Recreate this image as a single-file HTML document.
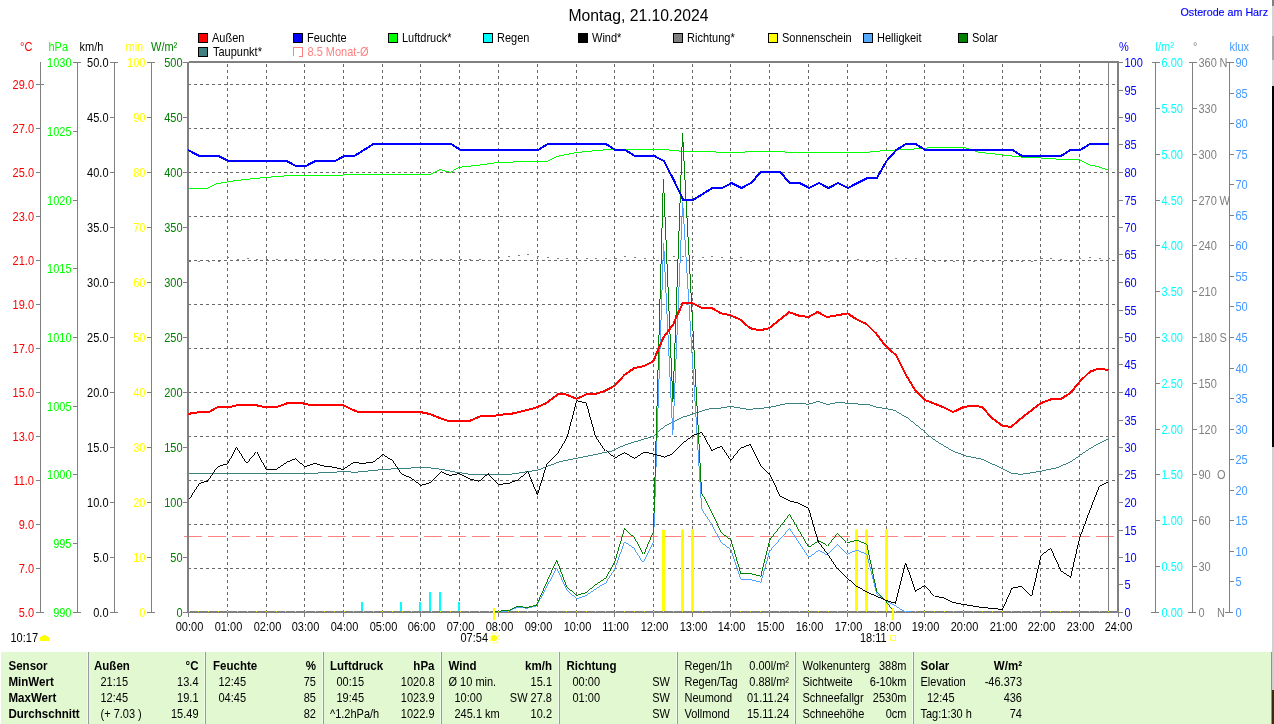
<!DOCTYPE html>
<html><head><meta charset="utf-8"><title>Wetter</title>
<style>html,body{margin:0;padding:0;background:#fff;overflow:hidden}svg{display:block;will-change:transform}text{font-family:"Liberation Sans",sans-serif}</style>
</head><body>
<svg width="1274" height="724" viewBox="0 0 1274 724">
<rect x="0" y="0" width="1274" height="724" fill="#fff"/>
<g shape-rendering="crispEdges">
<line x1="227.5" y1="64" x2="227.5" y2="611" stroke="#686868" stroke-width="1" stroke-dasharray="3 3"/>
<line x1="266.5" y1="64" x2="266.5" y2="611" stroke="#686868" stroke-width="1" stroke-dasharray="3 3"/>
<line x1="304.5" y1="64" x2="304.5" y2="611" stroke="#686868" stroke-width="1" stroke-dasharray="3 3"/>
<line x1="343.5" y1="64" x2="343.5" y2="611" stroke="#686868" stroke-width="1" stroke-dasharray="3 3"/>
<line x1="382.5" y1="64" x2="382.5" y2="611" stroke="#686868" stroke-width="1" stroke-dasharray="3 3"/>
<line x1="420.5" y1="64" x2="420.5" y2="611" stroke="#686868" stroke-width="1" stroke-dasharray="3 3"/>
<line x1="459.5" y1="64" x2="459.5" y2="611" stroke="#686868" stroke-width="1" stroke-dasharray="3 3"/>
<line x1="498.5" y1="64" x2="498.5" y2="611" stroke="#686868" stroke-width="1" stroke-dasharray="3 3"/>
<line x1="537.5" y1="64" x2="537.5" y2="611" stroke="#686868" stroke-width="1" stroke-dasharray="3 3"/>
<line x1="576.5" y1="64" x2="576.5" y2="611" stroke="#686868" stroke-width="1" stroke-dasharray="3 3"/>
<line x1="614.5" y1="64" x2="614.5" y2="611" stroke="#686868" stroke-width="1" stroke-dasharray="3 3"/>
<line x1="653.5" y1="64" x2="653.5" y2="611" stroke="#686868" stroke-width="1" stroke-dasharray="3 3"/>
<line x1="692.5" y1="64" x2="692.5" y2="611" stroke="#686868" stroke-width="1" stroke-dasharray="3 3"/>
<line x1="730.5" y1="64" x2="730.5" y2="611" stroke="#686868" stroke-width="1" stroke-dasharray="3 3"/>
<line x1="769.5" y1="64" x2="769.5" y2="611" stroke="#686868" stroke-width="1" stroke-dasharray="3 3"/>
<line x1="808.5" y1="64" x2="808.5" y2="611" stroke="#686868" stroke-width="1" stroke-dasharray="3 3"/>
<line x1="847.5" y1="64" x2="847.5" y2="611" stroke="#686868" stroke-width="1" stroke-dasharray="3 3"/>
<line x1="886.5" y1="64" x2="886.5" y2="611" stroke="#686868" stroke-width="1" stroke-dasharray="3 3"/>
<line x1="924.5" y1="64" x2="924.5" y2="611" stroke="#686868" stroke-width="1" stroke-dasharray="3 3"/>
<line x1="963.5" y1="64" x2="963.5" y2="611" stroke="#686868" stroke-width="1" stroke-dasharray="3 3"/>
<line x1="1002.5" y1="64" x2="1002.5" y2="611" stroke="#686868" stroke-width="1" stroke-dasharray="3 3"/>
<line x1="1040.5" y1="64" x2="1040.5" y2="611" stroke="#686868" stroke-width="1" stroke-dasharray="3 3"/>
<line x1="1079.5" y1="64" x2="1079.5" y2="611" stroke="#686868" stroke-width="1" stroke-dasharray="3 3"/>
<line x1="188" y1="568.5" x2="1117" y2="568.5" stroke="#686868" stroke-width="1" stroke-dasharray="3 3"/>
<line x1="188" y1="524.5" x2="1117" y2="524.5" stroke="#686868" stroke-width="1" stroke-dasharray="3 3"/>
<line x1="188" y1="480.5" x2="1117" y2="480.5" stroke="#686868" stroke-width="1" stroke-dasharray="3 3"/>
<line x1="188" y1="436.5" x2="1117" y2="436.5" stroke="#686868" stroke-width="1" stroke-dasharray="3 3"/>
<line x1="188" y1="392.5" x2="1117" y2="392.5" stroke="#686868" stroke-width="1" stroke-dasharray="3 3"/>
<line x1="188" y1="348.5" x2="1117" y2="348.5" stroke="#686868" stroke-width="1" stroke-dasharray="3 3"/>
<line x1="188" y1="304.5" x2="1117" y2="304.5" stroke="#686868" stroke-width="1" stroke-dasharray="3 3"/>
<line x1="188" y1="260.5" x2="1117" y2="260.5" stroke="#686868" stroke-width="1" stroke-dasharray="3 3"/>
<line x1="188" y1="216.5" x2="1117" y2="216.5" stroke="#686868" stroke-width="1" stroke-dasharray="3 3"/>
<line x1="188" y1="172.5" x2="1117" y2="172.5" stroke="#686868" stroke-width="1" stroke-dasharray="3 3"/>
<line x1="188" y1="128.5" x2="1117" y2="128.5" stroke="#686868" stroke-width="1" stroke-dasharray="3 3"/>
<line x1="188" y1="84.5" x2="1117" y2="84.5" stroke="#686868" stroke-width="1" stroke-dasharray="3 3"/>
<line x1="184" y1="536.5" x2="1115" y2="536.5" stroke="#ff8080" stroke-width="1" stroke-dasharray="18 6"/>
</g>
<g shape-rendering="crispEdges">
<rect x="189" y="61" width="930" height="2" fill="#808080"/>
<rect x="187" y="611" width="932" height="2" fill="#808080"/>
<rect x="187" y="62" width="2" height="551" fill="#808080"/>
<rect x="188" y="613" width="1" height="4" fill="#808080"/>
<rect x="1117" y="61" width="2" height="552" fill="#808080"/>
<rect x="1118" y="613" width="1" height="4" fill="#808080"/>
<rect x="1108" y="62" width="1" height="550" fill="#808080"/>
<rect x="227" y="613" width="1" height="4" fill="#808080"/>
<rect x="266" y="613" width="1" height="4" fill="#808080"/>
<rect x="304" y="613" width="1" height="4" fill="#808080"/>
<rect x="343" y="613" width="1" height="4" fill="#808080"/>
<rect x="382" y="613" width="1" height="4" fill="#808080"/>
<rect x="420" y="613" width="1" height="4" fill="#808080"/>
<rect x="459" y="613" width="1" height="4" fill="#808080"/>
<rect x="498" y="613" width="1" height="4" fill="#808080"/>
<rect x="537" y="613" width="1" height="4" fill="#808080"/>
<rect x="576" y="613" width="1" height="4" fill="#808080"/>
<rect x="614" y="613" width="1" height="4" fill="#808080"/>
<rect x="653" y="613" width="1" height="4" fill="#808080"/>
<rect x="692" y="613" width="1" height="4" fill="#808080"/>
<rect x="730" y="613" width="1" height="4" fill="#808080"/>
<rect x="769" y="613" width="1" height="4" fill="#808080"/>
<rect x="808" y="613" width="1" height="4" fill="#808080"/>
<rect x="847" y="613" width="1" height="4" fill="#808080"/>
<rect x="886" y="613" width="1" height="4" fill="#808080"/>
<rect x="924" y="613" width="1" height="4" fill="#808080"/>
<rect x="963" y="613" width="1" height="4" fill="#808080"/>
<rect x="1002" y="613" width="1" height="4" fill="#808080"/>
<rect x="1040" y="613" width="1" height="4" fill="#808080"/>
<rect x="1079" y="613" width="1" height="4" fill="#808080"/>
</g>
<g shape-rendering="crispEdges">
<rect x="189" y="261" width="2" height="1" fill="#808080"/>
<rect x="198" y="261" width="2" height="1" fill="#808080"/>
<rect x="208" y="261" width="2" height="1" fill="#808080"/>
<rect x="218" y="261" width="2" height="1" fill="#808080"/>
<rect x="227" y="257" width="2" height="1" fill="#808080"/>
<rect x="237" y="259" width="2" height="1" fill="#808080"/>
<rect x="247" y="258" width="2" height="1" fill="#808080"/>
<rect x="256" y="259" width="2" height="1" fill="#808080"/>
<rect x="266" y="259" width="2" height="1" fill="#808080"/>
<rect x="276" y="259" width="2" height="1" fill="#808080"/>
<rect x="285" y="259" width="2" height="1" fill="#808080"/>
<rect x="295" y="259" width="2" height="1" fill="#808080"/>
<rect x="305" y="259" width="2" height="1" fill="#808080"/>
<rect x="315" y="259" width="2" height="1" fill="#808080"/>
<rect x="324" y="259" width="2" height="1" fill="#808080"/>
<rect x="334" y="259" width="2" height="1" fill="#808080"/>
<rect x="344" y="259" width="2" height="1" fill="#808080"/>
<rect x="353" y="259" width="2" height="1" fill="#808080"/>
<rect x="363" y="259" width="2" height="1" fill="#808080"/>
<rect x="373" y="259" width="2" height="1" fill="#808080"/>
<rect x="382" y="259" width="2" height="1" fill="#808080"/>
<rect x="392" y="259" width="2" height="1" fill="#808080"/>
<rect x="402" y="259" width="2" height="1" fill="#808080"/>
<rect x="411" y="259" width="2" height="1" fill="#808080"/>
<rect x="421" y="259" width="2" height="1" fill="#808080"/>
<rect x="431" y="259" width="2" height="1" fill="#808080"/>
<rect x="440" y="259" width="2" height="1" fill="#808080"/>
<rect x="450" y="259" width="2" height="1" fill="#808080"/>
<rect x="460" y="259" width="2" height="1" fill="#808080"/>
<rect x="469" y="259" width="2" height="1" fill="#808080"/>
<rect x="479" y="259" width="2" height="1" fill="#808080"/>
<rect x="489" y="260" width="2" height="1" fill="#808080"/>
<rect x="498" y="257" width="2" height="1" fill="#808080"/>
<rect x="508" y="256" width="2" height="1" fill="#808080"/>
<rect x="518" y="255" width="2" height="1" fill="#808080"/>
<rect x="527" y="254" width="2" height="1" fill="#808080"/>
<rect x="537" y="256" width="2" height="1" fill="#808080"/>
<rect x="547" y="257" width="2" height="1" fill="#808080"/>
<rect x="557" y="258" width="2" height="1" fill="#808080"/>
<rect x="566" y="258" width="2" height="1" fill="#808080"/>
<rect x="576" y="258" width="2" height="1" fill="#808080"/>
<rect x="586" y="258" width="2" height="1" fill="#808080"/>
<rect x="595" y="258" width="2" height="1" fill="#808080"/>
<rect x="605" y="258" width="2" height="1" fill="#808080"/>
<rect x="615" y="258" width="2" height="1" fill="#808080"/>
<rect x="624" y="256" width="2" height="1" fill="#808080"/>
<rect x="634" y="257" width="2" height="1" fill="#808080"/>
<rect x="644" y="258" width="2" height="1" fill="#808080"/>
<rect x="653" y="258" width="2" height="1" fill="#808080"/>
<rect x="663" y="258" width="2" height="1" fill="#808080"/>
<rect x="673" y="256" width="2" height="1" fill="#808080"/>
<rect x="682" y="256" width="2" height="1" fill="#808080"/>
<rect x="692" y="256" width="2" height="1" fill="#808080"/>
<rect x="702" y="257" width="2" height="1" fill="#808080"/>
<rect x="711" y="256" width="2" height="1" fill="#808080"/>
<rect x="721" y="257" width="2" height="1" fill="#808080"/>
<rect x="731" y="258" width="2" height="1" fill="#808080"/>
<rect x="740" y="257" width="2" height="1" fill="#808080"/>
<rect x="750" y="261" width="2" height="1" fill="#808080"/>
<rect x="760" y="261" width="2" height="1" fill="#808080"/>
<rect x="769" y="261" width="2" height="1" fill="#808080"/>
<rect x="779" y="261" width="2" height="1" fill="#808080"/>
<rect x="789" y="261" width="2" height="1" fill="#808080"/>
<rect x="799" y="261" width="2" height="1" fill="#808080"/>
<rect x="808" y="261" width="2" height="1" fill="#808080"/>
<rect x="818" y="261" width="2" height="1" fill="#808080"/>
<rect x="828" y="261" width="2" height="1" fill="#808080"/>
<rect x="837" y="261" width="2" height="1" fill="#808080"/>
<rect x="847" y="261" width="2" height="1" fill="#808080"/>
<rect x="857" y="259" width="2" height="1" fill="#808080"/>
<rect x="866" y="261" width="2" height="1" fill="#808080"/>
<rect x="876" y="261" width="2" height="1" fill="#808080"/>
<rect x="886" y="261" width="2" height="1" fill="#808080"/>
<rect x="895" y="258" width="2" height="1" fill="#808080"/>
<rect x="905" y="258" width="2" height="1" fill="#808080"/>
<rect x="915" y="258" width="2" height="1" fill="#808080"/>
<rect x="924" y="259" width="2" height="1" fill="#808080"/>
<rect x="934" y="261" width="2" height="1" fill="#808080"/>
<rect x="944" y="261" width="2" height="1" fill="#808080"/>
<rect x="953" y="261" width="2" height="1" fill="#808080"/>
<rect x="963" y="261" width="2" height="1" fill="#808080"/>
<rect x="973" y="261" width="2" height="1" fill="#808080"/>
<rect x="982" y="261" width="2" height="1" fill="#808080"/>
<rect x="992" y="261" width="2" height="1" fill="#808080"/>
<rect x="1002" y="261" width="2" height="1" fill="#808080"/>
<rect x="1011" y="261" width="2" height="1" fill="#808080"/>
<rect x="1021" y="261" width="2" height="1" fill="#808080"/>
<rect x="1031" y="261" width="2" height="1" fill="#808080"/>
<rect x="1041" y="258" width="2" height="1" fill="#808080"/>
<rect x="1050" y="258" width="2" height="1" fill="#808080"/>
<rect x="1060" y="259" width="2" height="1" fill="#808080"/>
<rect x="1070" y="261" width="2" height="1" fill="#808080"/>
<rect x="1079" y="258" width="2" height="1" fill="#808080"/>
<rect x="1089" y="257" width="2" height="1" fill="#808080"/>
<rect x="1099" y="258" width="2" height="1" fill="#808080"/>
<rect x="1108" y="258" width="2" height="1" fill="#808080"/>
<rect x="361" y="602" width="2" height="9" fill="#00ffff"/>
<rect x="400" y="602" width="2" height="9" fill="#00ffff"/>
<rect x="419" y="602" width="2" height="9" fill="#00ffff"/>
<rect x="429" y="592" width="2" height="19" fill="#00ffff"/>
<rect x="439" y="592" width="2" height="19" fill="#00ffff"/>
<rect x="458" y="602" width="2" height="9" fill="#00ffff"/>
<rect x="662" y="530" width="3" height="81" fill="#ffff00"/>
<rect x="663" y="529" width="1" height="1" fill="#ffff00"/>
<rect x="681" y="530" width="3" height="81" fill="#ffff00"/>
<rect x="682" y="529" width="1" height="1" fill="#ffff00"/>
<rect x="691" y="530" width="3" height="81" fill="#ffff00"/>
<rect x="692" y="529" width="1" height="1" fill="#ffff00"/>
<rect x="855" y="530" width="3" height="81" fill="#ffff00"/>
<rect x="856" y="529" width="1" height="1" fill="#ffff00"/>
<rect x="865" y="530" width="3" height="81" fill="#ffff00"/>
<rect x="866" y="529" width="1" height="1" fill="#ffff00"/>
<rect x="885" y="530" width="3" height="81" fill="#ffff00"/>
<rect x="886" y="529" width="1" height="1" fill="#ffff00"/>
</g>
<g shape-rendering="crispEdges">
<polyline points="189.0,188.3 207.0,188.3 217.0,183.6 237.8,180.3 266.7,177.3 293.0,175.3 343.0,175.0 351.0,174.3 430.0,174.3 440.0,169.5 450.0,172.3 460.0,167.2 479.0,165.2 500.0,162.2 546.5,161.5 556.5,156.4 575.0,152.7 600.0,150.2 613.0,149.4 663.0,149.4 683.0,151.4 716.0,152.0 721.0,152.7 741.0,152.7 747.5,151.7 784.0,151.7 786.4,152.4 869.0,152.4 872.8,151.4 898.0,150.0 915.5,148.9 925.5,148.0 940.6,147.0 963.0,147.0 965.7,148.0 978.0,152.0 1003.0,155.0 1021.0,157.0 1041.0,158.0 1066.0,159.7 1080.0,160.0 1090.0,165.0 1099.0,167.0 1108.4,170.0" fill="none" stroke="#00ff00" stroke-width="0.99"/>
<polyline points="189.0,473.5 255.0,473.0 305.0,473.7 343.0,471.7 356.0,472.2 386.0,469.2 406.0,468.4 420.7,467.2 436.0,468.4 456.4,472.2 469.0,474.2 510.0,474.4 538.0,470.0 560.5,461.4 611.8,450.9 625.6,444.6 653.3,436.3 664.6,426.2 682.0,417.4 692.0,414.4 709.8,408.6 721.0,408.0 730.7,406.4 748.7,409.4 768.8,407.6 786.4,403.6 796.5,403.0 807.8,404.4 818.3,401.4 827.6,404.4 838.9,402.4 855.0,403.9 866.5,404.4 876.6,407.4 886.6,408.6 895.4,410.7 905.5,417.0 925.6,433.3 935.6,440.8 954.5,452.0 965.8,455.9 983.4,459.6 1011.0,473.0 1021.0,474.4 1040.0,471.4 1057.7,467.6 1070.3,461.9 1079.6,455.6 1086.4,450.9 1096.4,444.6 1108.5,438.8" fill="none" stroke="#3a8080" stroke-width="0.99"/>
<polyline points="494.0,611.8 509.0,611.0 517.8,607.0 526.6,608.3 536.6,605.8 556.7,568.0 566.8,590.0 576.8,598.8 585.6,595.8 597.0,588.0 605.7,583.0 614.5,569.4 624.6,541.8 634.6,548.5 643.4,562.4 653.5,541.8 663.6,243.0 672.8,435.0 682.6,201.7 701.7,509.0 712.0,525.0 721.3,542.5 730.9,549.8 740.9,579.4 751.5,580.0 760.8,582.5 769.7,551.0 789.6,528.4 808.5,556.8 818.3,550.0 827.3,555.0 837.4,544.3 847.4,554.3 856.7,550.0 866.8,554.3 876.8,593.8 885.6,600.8 895.2,605.8 903.2,610.9 910.8,611.6" fill="none" stroke="#4da0ff" stroke-width="0.99"/>
<polyline points="494.0,611.5 509.0,610.4 517.8,606.3 526.6,607.6 536.6,605.0 556.7,560.0 566.8,587.0 576.8,595.3 585.6,592.8 597.0,583.7 605.7,578.2 614.5,562.6 624.6,528.4 634.6,538.0 643.4,554.3 653.5,530.5 663.4,179.0 672.9,402.0 682.5,133.0 701.6,492.8 712.0,512.9 721.3,532.5 730.9,540.0 740.9,573.7 751.5,574.0 760.8,576.4 769.7,540.0 789.6,514.4 808.5,546.8 818.3,540.5 827.3,545.5 837.4,532.5 847.4,543.0 856.7,540.0 866.8,544.3 876.8,592.0 885.6,600.8 893.5,611.5" fill="none" stroke="#008000" stroke-width="0.99"/>
<polyline points="189.0,498.6 198.8,483.5 207.6,481.0 217.7,466.7 227.7,463.7 236.5,447.3 246.6,463.4 256.6,451.6 266.2,469.2 275.5,469.2 285.5,462.4 295.0,458.4 304.9,466.7 314.4,463.4 324.5,466.2 333.8,467.4 343.3,469.4 353.4,462.4 363.0,463.4 373.0,462.2 383.0,454.6 392.3,460.4 401.6,474.2 411.2,478.0 420.7,485.5 430.8,482.5 440.8,471.7 450.0,475.5 459.4,473.5 470.2,479.2 479.0,481.3 488.5,473.5 499.0,484.5 509.0,483.2 517.8,480.2 527.8,471.4 537.4,494.8 546.7,464.6 558.0,452.6 567.3,437.0 576.6,400.6 586.2,403.0 595.0,434.5 605.5,450.8 614.3,458.4 624.4,452.6 634.4,458.4 644.5,452.0 654.5,454.6 663.5,457.0 673.1,453.4 683.0,443.0 693.0,435.5 701.8,432.4 711.8,450.5 721.2,446.3 730.8,460.5 740.4,448.3 750.1,444.4 760.3,465.0 769.5,474.0 780.0,495.8 789.6,500.8 799.0,503.3 808.5,508.3 818.3,541.8 827.8,554.3 837.9,569.4 847.4,578.2 856.7,586.2 866.8,592.0 876.8,596.3 885.6,600.3 895.5,603.3 905.7,562.6 915.3,591.3 924.6,585.7 934.5,596.3 944.8,598.3 953.4,602.5 963.5,604.6 973.6,606.3 982.9,607.6 992.4,608.3 1002.5,609.6 1012.0,588.2 1021.3,586.2 1031.4,596.3 1040.9,555.5 1050.7,548.2 1060.8,570.7 1070.6,577.4 1079.6,538.0 1089.3,512.0 1099.3,486.2 1108.4,482.0" fill="none" stroke="#000" stroke-width="0.99"/>
<polyline points="188.0,150.0 199.3,156.0 209.0,156.0 218.7,156.0 228.4,161.0 238.1,161.0 247.7,161.0 257.4,161.0 267.1,161.0 276.8,161.0 286.5,161.0 296.1,166.0 305.8,166.0 315.5,161.0 325.2,161.0 334.9,161.0 344.5,156.0 354.2,156.0 363.9,150.0 373.6,144.0 383.3,144.0 392.9,144.0 402.6,144.0 412.3,144.0 422.0,144.0 431.7,144.0 441.3,144.0 451.0,144.0 460.7,150.0 470.4,150.0 480.1,150.0 489.7,150.0 499.4,150.0 509.1,150.0 518.8,150.0 528.5,150.0 538.1,150.0 547.8,144.0 557.5,144.0 567.2,144.0 576.9,144.0 586.5,144.0 596.2,144.0 605.9,144.0 615.6,150.0 625.3,150.0 634.9,156.0 644.6,156.0 654.3,156.0 664.0,161.0 673.7,180.0 683.3,200.0 693.0,200.0 702.7,194.0 712.4,188.0 722.1,188.0 731.7,183.0 741.4,188.0 751.1,183.0 760.8,172.0 770.5,172.0 780.1,172.0 789.8,183.0 799.5,183.0 809.2,188.0 818.9,183.0 828.5,188.0 838.2,183.0 847.9,188.0 857.6,183.0 867.3,178.0 876.9,178.0 886.6,161.0 896.3,150.0 906.0,144.0 915.7,144.0 925.3,150.0 935.0,150.0 944.7,150.0 954.4,150.0 964.1,150.0 973.7,150.0 983.4,150.0 993.1,150.0 1002.8,150.0 1012.5,150.0 1022.1,156.0 1031.8,156.0 1041.5,156.0 1051.2,156.0 1060.9,156.0 1070.5,150.0 1080.2,150.0 1089.9,144.0 1099.6,144.0 1109.3,144.0" fill="none" stroke="#0000ff" stroke-width="2" stroke-linejoin="round"/>
<polyline points="188.0,413.9 200.0,412.0 209.0,412.0 218.0,406.9 230.0,406.9 238.3,405.0 255.4,405.0 264.0,407.0 276.7,407.0 286.8,403.4 303.0,403.4 310.7,405.0 342.8,405.0 353.0,410.0 358.4,412.0 420.0,412.0 430.0,414.0 438.8,417.7 447.6,420.7 470.0,420.7 480.0,416.4 491.5,416.4 500.0,414.7 511.0,413.9 535.0,408.0 546.5,403.0 557.8,394.3 565.8,394.3 576.6,398.8 586.7,394.3 596.7,393.6 605.5,390.6 615.0,385.5 624.4,375.0 634.4,368.0 643.7,366.2 653.3,361.2 663.3,337.8 673.4,324.0 683.0,302.6 691.5,302.6 701.0,307.6 711.0,307.6 721.0,313.2 730.0,315.2 740.0,319.4 750.0,328.2 760.0,330.3 769.3,328.2 789.0,312.2 799.0,315.7 808.5,317.0 817.5,312.0 827.0,317.0 837.6,315.2 847.7,313.4 856.5,319.4 866.5,324.0 876.6,334.0 885.4,345.8 896.2,355.4 905.5,374.2 915.0,390.0 925.0,400.0 934.4,403.6 944.4,407.6 953.2,412.0 963.8,407.0 973.3,405.6 982.0,407.0 992.2,418.2 1002.2,425.7 1011.0,427.0 1022.3,417.4 1041.0,403.0 1051.2,399.3 1061.3,398.8 1070.8,392.6 1080.0,381.3 1090.0,371.7 1098.4,368.7 1108.5,370.0" fill="none" stroke="#ff0000" stroke-width="2" stroke-linejoin="round"/>
<rect x="189" y="611" width="1" height="1" fill="#f0f000"/>
<rect x="198" y="611" width="1" height="1" fill="#f0f000"/>
<rect x="208" y="611" width="1" height="1" fill="#f0f000"/>
<rect x="218" y="611" width="1" height="1" fill="#f0f000"/>
<rect x="227" y="611" width="1" height="1" fill="#f0f000"/>
<rect x="237" y="611" width="1" height="1" fill="#f0f000"/>
<rect x="247" y="611" width="1" height="1" fill="#f0f000"/>
<rect x="256" y="611" width="1" height="1" fill="#f0f000"/>
<rect x="266" y="611" width="1" height="1" fill="#f0f000"/>
<rect x="276" y="611" width="1" height="1" fill="#f0f000"/>
<rect x="285" y="611" width="1" height="1" fill="#f0f000"/>
<rect x="295" y="611" width="1" height="1" fill="#f0f000"/>
<rect x="305" y="611" width="1" height="1" fill="#f0f000"/>
<rect x="315" y="611" width="1" height="1" fill="#f0f000"/>
<rect x="324" y="611" width="1" height="1" fill="#f0f000"/>
<rect x="334" y="611" width="1" height="1" fill="#f0f000"/>
<rect x="344" y="611" width="1" height="1" fill="#f0f000"/>
<rect x="353" y="611" width="1" height="1" fill="#f0f000"/>
<rect x="363" y="611" width="1" height="1" fill="#f0f000"/>
<rect x="373" y="611" width="1" height="1" fill="#f0f000"/>
<rect x="382" y="611" width="1" height="1" fill="#f0f000"/>
<rect x="392" y="611" width="1" height="1" fill="#f0f000"/>
<rect x="402" y="611" width="1" height="1" fill="#f0f000"/>
<rect x="411" y="611" width="1" height="1" fill="#f0f000"/>
<rect x="421" y="611" width="1" height="1" fill="#f0f000"/>
<rect x="431" y="611" width="1" height="1" fill="#f0f000"/>
<rect x="440" y="611" width="1" height="1" fill="#f0f000"/>
<rect x="450" y="611" width="1" height="1" fill="#f0f000"/>
<rect x="460" y="611" width="1" height="1" fill="#f0f000"/>
<rect x="469" y="611" width="1" height="1" fill="#f0f000"/>
<rect x="479" y="611" width="1" height="1" fill="#f0f000"/>
<rect x="489" y="611" width="1" height="1" fill="#f0f000"/>
<rect x="498" y="611" width="1" height="1" fill="#f0f000"/>
<rect x="508" y="611" width="1" height="1" fill="#f0f000"/>
<rect x="518" y="611" width="1" height="1" fill="#f0f000"/>
<rect x="527" y="611" width="1" height="1" fill="#f0f000"/>
<rect x="537" y="611" width="1" height="1" fill="#f0f000"/>
<rect x="547" y="611" width="1" height="1" fill="#f0f000"/>
<rect x="557" y="611" width="1" height="1" fill="#f0f000"/>
<rect x="566" y="611" width="1" height="1" fill="#f0f000"/>
<rect x="576" y="611" width="1" height="1" fill="#f0f000"/>
<rect x="586" y="611" width="1" height="1" fill="#f0f000"/>
<rect x="595" y="611" width="1" height="1" fill="#f0f000"/>
<rect x="605" y="611" width="1" height="1" fill="#f0f000"/>
<rect x="615" y="611" width="1" height="1" fill="#f0f000"/>
<rect x="624" y="611" width="1" height="1" fill="#f0f000"/>
<rect x="634" y="611" width="1" height="1" fill="#f0f000"/>
<rect x="644" y="611" width="1" height="1" fill="#f0f000"/>
<rect x="653" y="611" width="1" height="1" fill="#f0f000"/>
<rect x="663" y="611" width="1" height="1" fill="#f0f000"/>
<rect x="673" y="611" width="1" height="1" fill="#f0f000"/>
<rect x="682" y="611" width="1" height="1" fill="#f0f000"/>
<rect x="692" y="611" width="1" height="1" fill="#f0f000"/>
<rect x="702" y="611" width="1" height="1" fill="#f0f000"/>
<rect x="711" y="611" width="1" height="1" fill="#f0f000"/>
<rect x="721" y="611" width="1" height="1" fill="#f0f000"/>
<rect x="731" y="611" width="1" height="1" fill="#f0f000"/>
<rect x="740" y="611" width="1" height="1" fill="#f0f000"/>
<rect x="750" y="611" width="1" height="1" fill="#f0f000"/>
<rect x="760" y="611" width="1" height="1" fill="#f0f000"/>
<rect x="769" y="611" width="1" height="1" fill="#f0f000"/>
<rect x="779" y="611" width="1" height="1" fill="#f0f000"/>
<rect x="789" y="611" width="1" height="1" fill="#f0f000"/>
<rect x="799" y="611" width="1" height="1" fill="#f0f000"/>
<rect x="808" y="611" width="1" height="1" fill="#f0f000"/>
<rect x="818" y="611" width="1" height="1" fill="#f0f000"/>
<rect x="828" y="611" width="1" height="1" fill="#f0f000"/>
<rect x="837" y="611" width="1" height="1" fill="#f0f000"/>
<rect x="847" y="611" width="1" height="1" fill="#f0f000"/>
<rect x="857" y="611" width="1" height="1" fill="#f0f000"/>
<rect x="866" y="611" width="1" height="1" fill="#f0f000"/>
<rect x="876" y="611" width="1" height="1" fill="#f0f000"/>
<rect x="886" y="611" width="1" height="1" fill="#f0f000"/>
<rect x="895" y="611" width="1" height="1" fill="#f0f000"/>
<rect x="905" y="611" width="1" height="1" fill="#f0f000"/>
<rect x="915" y="611" width="1" height="1" fill="#f0f000"/>
<rect x="924" y="611" width="1" height="1" fill="#f0f000"/>
<rect x="934" y="611" width="1" height="1" fill="#f0f000"/>
<rect x="944" y="611" width="1" height="1" fill="#f0f000"/>
<rect x="953" y="611" width="1" height="1" fill="#f0f000"/>
<rect x="963" y="611" width="1" height="1" fill="#f0f000"/>
<rect x="973" y="611" width="1" height="1" fill="#f0f000"/>
<rect x="982" y="611" width="1" height="1" fill="#f0f000"/>
<rect x="992" y="611" width="1" height="1" fill="#f0f000"/>
<rect x="1002" y="611" width="1" height="1" fill="#f0f000"/>
<rect x="1011" y="611" width="1" height="1" fill="#f0f000"/>
<rect x="1021" y="611" width="1" height="1" fill="#f0f000"/>
<rect x="1031" y="611" width="1" height="1" fill="#f0f000"/>
<rect x="1041" y="611" width="1" height="1" fill="#f0f000"/>
<rect x="1050" y="611" width="1" height="1" fill="#f0f000"/>
<rect x="1060" y="611" width="1" height="1" fill="#f0f000"/>
<rect x="1070" y="611" width="1" height="1" fill="#f0f000"/>
<rect x="1079" y="611" width="1" height="1" fill="#f0f000"/>
<rect x="1089" y="611" width="1" height="1" fill="#f0f000"/>
<rect x="1099" y="611" width="1" height="1" fill="#f0f000"/>
<rect x="1108" y="611" width="1" height="1" fill="#f0f000"/>
<rect x="493" y="608" width="2" height="12" fill="#ffff00"/>
<rect x="892" y="608" width="2" height="12" fill="#ffff00"/>
</g>
<g shape-rendering="crispEdges">
</g>
<g shape-rendering="crispEdges">
<rect x="40" y="62" width="1" height="551" fill="#808080"/>
<rect x="36" y="612" width="8" height="1" fill="#808080"/>
<rect x="36" y="568" width="4" height="1" fill="#808080"/>
<rect x="36" y="524" width="4" height="1" fill="#808080"/>
<rect x="36" y="480" width="4" height="1" fill="#808080"/>
<rect x="36" y="436" width="4" height="1" fill="#808080"/>
<rect x="36" y="392" width="4" height="1" fill="#808080"/>
<rect x="36" y="348" width="4" height="1" fill="#808080"/>
<rect x="36" y="304" width="4" height="1" fill="#808080"/>
<rect x="36" y="260" width="4" height="1" fill="#808080"/>
<rect x="36" y="216" width="4" height="1" fill="#808080"/>
<rect x="36" y="172" width="4" height="1" fill="#808080"/>
<rect x="36" y="128" width="4" height="1" fill="#808080"/>
<rect x="36" y="84" width="8" height="1" fill="#808080"/>
<rect x="77" y="62" width="1" height="551" fill="#808080"/>
<rect x="73" y="612" width="8" height="1" fill="#808080"/>
<rect x="73" y="543" width="4" height="1" fill="#808080"/>
<rect x="73" y="474" width="4" height="1" fill="#808080"/>
<rect x="73" y="406" width="4" height="1" fill="#808080"/>
<rect x="73" y="337" width="4" height="1" fill="#808080"/>
<rect x="73" y="268" width="4" height="1" fill="#808080"/>
<rect x="73" y="200" width="4" height="1" fill="#808080"/>
<rect x="73" y="131" width="4" height="1" fill="#808080"/>
<rect x="73" y="62" width="8" height="1" fill="#808080"/>
<rect x="114" y="62" width="1" height="551" fill="#808080"/>
<rect x="110" y="612" width="8" height="1" fill="#808080"/>
<rect x="110" y="557" width="4" height="1" fill="#808080"/>
<rect x="110" y="502" width="4" height="1" fill="#808080"/>
<rect x="110" y="447" width="4" height="1" fill="#808080"/>
<rect x="110" y="392" width="4" height="1" fill="#808080"/>
<rect x="110" y="337" width="4" height="1" fill="#808080"/>
<rect x="110" y="282" width="4" height="1" fill="#808080"/>
<rect x="110" y="227" width="4" height="1" fill="#808080"/>
<rect x="110" y="172" width="4" height="1" fill="#808080"/>
<rect x="110" y="117" width="4" height="1" fill="#808080"/>
<rect x="110" y="62" width="8" height="1" fill="#808080"/>
<rect x="151" y="62" width="1" height="551" fill="#808080"/>
<rect x="147" y="612" width="8" height="1" fill="#808080"/>
<rect x="147" y="557" width="4" height="1" fill="#808080"/>
<rect x="147" y="502" width="4" height="1" fill="#808080"/>
<rect x="147" y="447" width="4" height="1" fill="#808080"/>
<rect x="147" y="392" width="4" height="1" fill="#808080"/>
<rect x="147" y="337" width="4" height="1" fill="#808080"/>
<rect x="147" y="282" width="4" height="1" fill="#808080"/>
<rect x="147" y="227" width="4" height="1" fill="#808080"/>
<rect x="147" y="172" width="4" height="1" fill="#808080"/>
<rect x="147" y="117" width="4" height="1" fill="#808080"/>
<rect x="147" y="62" width="8" height="1" fill="#808080"/>
<rect x="183" y="612" width="4" height="1" fill="#808080"/>
<rect x="183" y="557" width="4" height="1" fill="#808080"/>
<rect x="183" y="502" width="4" height="1" fill="#808080"/>
<rect x="183" y="447" width="4" height="1" fill="#808080"/>
<rect x="183" y="392" width="4" height="1" fill="#808080"/>
<rect x="183" y="337" width="4" height="1" fill="#808080"/>
<rect x="183" y="282" width="4" height="1" fill="#808080"/>
<rect x="183" y="227" width="4" height="1" fill="#808080"/>
<rect x="183" y="172" width="4" height="1" fill="#808080"/>
<rect x="183" y="117" width="4" height="1" fill="#808080"/>
<rect x="183" y="62" width="4" height="1" fill="#808080"/>
<rect x="1119" y="612" width="4" height="1" fill="#808080"/>
<rect x="1119" y="584" width="4" height="1" fill="#808080"/>
<rect x="1119" y="557" width="4" height="1" fill="#808080"/>
<rect x="1119" y="530" width="4" height="1" fill="#808080"/>
<rect x="1119" y="502" width="4" height="1" fill="#808080"/>
<rect x="1119" y="474" width="4" height="1" fill="#808080"/>
<rect x="1119" y="447" width="4" height="1" fill="#808080"/>
<rect x="1119" y="420" width="4" height="1" fill="#808080"/>
<rect x="1119" y="392" width="4" height="1" fill="#808080"/>
<rect x="1119" y="364" width="4" height="1" fill="#808080"/>
<rect x="1119" y="337" width="4" height="1" fill="#808080"/>
<rect x="1119" y="310" width="4" height="1" fill="#808080"/>
<rect x="1119" y="282" width="4" height="1" fill="#808080"/>
<rect x="1119" y="254" width="4" height="1" fill="#808080"/>
<rect x="1119" y="227" width="4" height="1" fill="#808080"/>
<rect x="1119" y="200" width="4" height="1" fill="#808080"/>
<rect x="1119" y="172" width="4" height="1" fill="#808080"/>
<rect x="1119" y="144" width="4" height="1" fill="#808080"/>
<rect x="1119" y="117" width="4" height="1" fill="#808080"/>
<rect x="1119" y="90" width="4" height="1" fill="#808080"/>
<rect x="1119" y="62" width="4" height="1" fill="#808080"/>
<rect x="1155" y="62" width="1" height="551" fill="#808080"/>
<rect x="1151" y="612" width="8" height="1" fill="#808080"/>
<rect x="1156" y="566" width="4" height="1" fill="#808080"/>
<rect x="1156" y="520" width="4" height="1" fill="#808080"/>
<rect x="1156" y="474" width="4" height="1" fill="#808080"/>
<rect x="1156" y="429" width="4" height="1" fill="#808080"/>
<rect x="1156" y="383" width="4" height="1" fill="#808080"/>
<rect x="1156" y="337" width="4" height="1" fill="#808080"/>
<rect x="1156" y="291" width="4" height="1" fill="#808080"/>
<rect x="1156" y="245" width="4" height="1" fill="#808080"/>
<rect x="1156" y="200" width="4" height="1" fill="#808080"/>
<rect x="1156" y="154" width="4" height="1" fill="#808080"/>
<rect x="1156" y="108" width="4" height="1" fill="#808080"/>
<rect x="1152" y="62" width="8" height="1" fill="#808080"/>
<rect x="1192" y="62" width="1" height="551" fill="#808080"/>
<rect x="1188" y="612" width="8" height="1" fill="#808080"/>
<rect x="1193" y="566" width="4" height="1" fill="#808080"/>
<rect x="1193" y="520" width="4" height="1" fill="#808080"/>
<rect x="1193" y="474" width="4" height="1" fill="#808080"/>
<rect x="1193" y="429" width="4" height="1" fill="#808080"/>
<rect x="1193" y="383" width="4" height="1" fill="#808080"/>
<rect x="1193" y="337" width="4" height="1" fill="#808080"/>
<rect x="1193" y="291" width="4" height="1" fill="#808080"/>
<rect x="1193" y="245" width="4" height="1" fill="#808080"/>
<rect x="1193" y="200" width="4" height="1" fill="#808080"/>
<rect x="1193" y="154" width="4" height="1" fill="#808080"/>
<rect x="1193" y="108" width="4" height="1" fill="#808080"/>
<rect x="1189" y="62" width="8" height="1" fill="#808080"/>
<rect x="1229" y="62" width="1" height="551" fill="#808080"/>
<rect x="1225" y="612" width="8" height="1" fill="#808080"/>
<rect x="1230" y="581" width="4" height="1" fill="#808080"/>
<rect x="1230" y="551" width="4" height="1" fill="#808080"/>
<rect x="1230" y="520" width="4" height="1" fill="#808080"/>
<rect x="1230" y="490" width="4" height="1" fill="#808080"/>
<rect x="1230" y="459" width="4" height="1" fill="#808080"/>
<rect x="1230" y="429" width="4" height="1" fill="#808080"/>
<rect x="1230" y="398" width="4" height="1" fill="#808080"/>
<rect x="1230" y="368" width="4" height="1" fill="#808080"/>
<rect x="1230" y="337" width="4" height="1" fill="#808080"/>
<rect x="1230" y="306" width="4" height="1" fill="#808080"/>
<rect x="1230" y="276" width="4" height="1" fill="#808080"/>
<rect x="1230" y="245" width="4" height="1" fill="#808080"/>
<rect x="1230" y="215" width="4" height="1" fill="#808080"/>
<rect x="1230" y="184" width="4" height="1" fill="#808080"/>
<rect x="1230" y="154" width="4" height="1" fill="#808080"/>
<rect x="1230" y="123" width="4" height="1" fill="#808080"/>
<rect x="1230" y="93" width="4" height="1" fill="#808080"/>
<rect x="1226" y="62" width="8" height="1" fill="#808080"/>
</g>
<g font-family="Liberation Sans, sans-serif" font-size="11">
<text transform="translate(20 50.5) scale(0.887 1)" fill="#ff0000" font-size="12.4" text-anchor="start">°C</text>
<text transform="translate(48.5 50.5) scale(0.887 1)" fill="#00ff00" font-size="12.4" text-anchor="start">hPa</text>
<text transform="translate(79.5 50.5) scale(0.887 1)" fill="#000" font-size="12.4" text-anchor="start">km/h</text>
<text transform="translate(125.5 50.5) scale(0.887 1)" fill="#ffff00" font-size="12.4" text-anchor="start">min</text>
<text transform="translate(151 50.5) scale(0.887 1)" fill="#008000" font-size="12.4" text-anchor="start">W/m²</text>
<text transform="translate(1119 51) scale(0.887 1)" fill="#0000ff" font-size="12.4" text-anchor="start">%</text>
<text transform="translate(1155.5 51) scale(0.887 1)" fill="#00ffff" font-size="12.4" text-anchor="start">l/m²</text>
<text transform="translate(1193 51) scale(0.887 1)" fill="#808080" font-size="12.4" text-anchor="start">°</text>
<text transform="translate(1229.5 51) scale(0.887 1)" fill="#4499ff" font-size="12.4" text-anchor="start">klux</text>
<text transform="translate(34 616.5) scale(0.887 1)" fill="#ff0000" font-size="12.4" text-anchor="end">5.0</text>
<text transform="translate(34 572.5) scale(0.887 1)" fill="#ff0000" font-size="12.4" text-anchor="end">7.0</text>
<text transform="translate(34 528.5) scale(0.887 1)" fill="#ff0000" font-size="12.4" text-anchor="end">9.0</text>
<text transform="translate(34 484.5) scale(0.887 1)" fill="#ff0000" font-size="12.4" text-anchor="end">11.0</text>
<text transform="translate(34 440.5) scale(0.887 1)" fill="#ff0000" font-size="12.4" text-anchor="end">13.0</text>
<text transform="translate(34 396.5) scale(0.887 1)" fill="#ff0000" font-size="12.4" text-anchor="end">15.0</text>
<text transform="translate(34 352.5) scale(0.887 1)" fill="#ff0000" font-size="12.4" text-anchor="end">17.0</text>
<text transform="translate(34 308.5) scale(0.887 1)" fill="#ff0000" font-size="12.4" text-anchor="end">19.0</text>
<text transform="translate(34 264.5) scale(0.887 1)" fill="#ff0000" font-size="12.4" text-anchor="end">21.0</text>
<text transform="translate(34 220.5) scale(0.887 1)" fill="#ff0000" font-size="12.4" text-anchor="end">23.0</text>
<text transform="translate(34 176.5) scale(0.887 1)" fill="#ff0000" font-size="12.4" text-anchor="end">25.0</text>
<text transform="translate(34 132.5) scale(0.887 1)" fill="#ff0000" font-size="12.4" text-anchor="end">27.0</text>
<text transform="translate(34 88.5) scale(0.887 1)" fill="#ff0000" font-size="12.4" text-anchor="end">29.0</text>
<text transform="translate(71.5 616.5) scale(0.887 1)" fill="#00ff00" font-size="12.4" text-anchor="end">990</text>
<text transform="translate(71.5 547.5) scale(0.887 1)" fill="#00ff00" font-size="12.4" text-anchor="end">995</text>
<text transform="translate(71.5 478.5) scale(0.887 1)" fill="#00ff00" font-size="12.4" text-anchor="end">1000</text>
<text transform="translate(71.5 410.5) scale(0.887 1)" fill="#00ff00" font-size="12.4" text-anchor="end">1005</text>
<text transform="translate(71.5 341.5) scale(0.887 1)" fill="#00ff00" font-size="12.4" text-anchor="end">1010</text>
<text transform="translate(71.5 272.5) scale(0.887 1)" fill="#00ff00" font-size="12.4" text-anchor="end">1015</text>
<text transform="translate(71.5 204.5) scale(0.887 1)" fill="#00ff00" font-size="12.4" text-anchor="end">1020</text>
<text transform="translate(71.5 135.5) scale(0.887 1)" fill="#00ff00" font-size="12.4" text-anchor="end">1025</text>
<text transform="translate(71.5 66.5) scale(0.887 1)" fill="#00ff00" font-size="12.4" text-anchor="end">1030</text>
<text transform="translate(108.5 616.5) scale(0.887 1)" fill="#000" font-size="12.4" text-anchor="end">0.0</text>
<text transform="translate(145.4 616.5) scale(0.887 1)" fill="#ffff00" font-size="12.4" text-anchor="end">0</text>
<text transform="translate(182.6 616.5) scale(0.887 1)" fill="#008000" font-size="12.4" text-anchor="end">0</text>
<text transform="translate(108.5 561.5) scale(0.887 1)" fill="#000" font-size="12.4" text-anchor="end">5.0</text>
<text transform="translate(145.4 561.5) scale(0.887 1)" fill="#ffff00" font-size="12.4" text-anchor="end">10</text>
<text transform="translate(182.6 561.5) scale(0.887 1)" fill="#008000" font-size="12.4" text-anchor="end">50</text>
<text transform="translate(108.5 506.5) scale(0.887 1)" fill="#000" font-size="12.4" text-anchor="end">10.0</text>
<text transform="translate(145.4 506.5) scale(0.887 1)" fill="#ffff00" font-size="12.4" text-anchor="end">20</text>
<text transform="translate(182.6 506.5) scale(0.887 1)" fill="#008000" font-size="12.4" text-anchor="end">100</text>
<text transform="translate(108.5 451.5) scale(0.887 1)" fill="#000" font-size="12.4" text-anchor="end">15.0</text>
<text transform="translate(145.4 451.5) scale(0.887 1)" fill="#ffff00" font-size="12.4" text-anchor="end">30</text>
<text transform="translate(182.6 451.5) scale(0.887 1)" fill="#008000" font-size="12.4" text-anchor="end">150</text>
<text transform="translate(108.5 396.5) scale(0.887 1)" fill="#000" font-size="12.4" text-anchor="end">20.0</text>
<text transform="translate(145.4 396.5) scale(0.887 1)" fill="#ffff00" font-size="12.4" text-anchor="end">40</text>
<text transform="translate(182.6 396.5) scale(0.887 1)" fill="#008000" font-size="12.4" text-anchor="end">200</text>
<text transform="translate(108.5 341.5) scale(0.887 1)" fill="#000" font-size="12.4" text-anchor="end">25.0</text>
<text transform="translate(145.4 341.5) scale(0.887 1)" fill="#ffff00" font-size="12.4" text-anchor="end">50</text>
<text transform="translate(182.6 341.5) scale(0.887 1)" fill="#008000" font-size="12.4" text-anchor="end">250</text>
<text transform="translate(108.5 286.5) scale(0.887 1)" fill="#000" font-size="12.4" text-anchor="end">30.0</text>
<text transform="translate(145.4 286.5) scale(0.887 1)" fill="#ffff00" font-size="12.4" text-anchor="end">60</text>
<text transform="translate(182.6 286.5) scale(0.887 1)" fill="#008000" font-size="12.4" text-anchor="end">300</text>
<text transform="translate(108.5 231.5) scale(0.887 1)" fill="#000" font-size="12.4" text-anchor="end">35.0</text>
<text transform="translate(145.4 231.5) scale(0.887 1)" fill="#ffff00" font-size="12.4" text-anchor="end">70</text>
<text transform="translate(182.6 231.5) scale(0.887 1)" fill="#008000" font-size="12.4" text-anchor="end">350</text>
<text transform="translate(108.5 176.5) scale(0.887 1)" fill="#000" font-size="12.4" text-anchor="end">40.0</text>
<text transform="translate(145.4 176.5) scale(0.887 1)" fill="#ffff00" font-size="12.4" text-anchor="end">80</text>
<text transform="translate(182.6 176.5) scale(0.887 1)" fill="#008000" font-size="12.4" text-anchor="end">400</text>
<text transform="translate(108.5 121.5) scale(0.887 1)" fill="#000" font-size="12.4" text-anchor="end">45.0</text>
<text transform="translate(145.4 121.5) scale(0.887 1)" fill="#ffff00" font-size="12.4" text-anchor="end">90</text>
<text transform="translate(182.6 121.5) scale(0.887 1)" fill="#008000" font-size="12.4" text-anchor="end">450</text>
<text transform="translate(108.5 66.5) scale(0.887 1)" fill="#000" font-size="12.4" text-anchor="end">50.0</text>
<text transform="translate(145.4 66.5) scale(0.887 1)" fill="#ffff00" font-size="12.4" text-anchor="end">100</text>
<text transform="translate(182.6 66.5) scale(0.887 1)" fill="#008000" font-size="12.4" text-anchor="end">500</text>
<text transform="translate(1124.5 616.5) scale(0.887 1)" fill="#0000ff" font-size="12.4" text-anchor="start">0</text>
<text transform="translate(1124.5 588.5) scale(0.887 1)" fill="#0000ff" font-size="12.4" text-anchor="start">5</text>
<text transform="translate(1124.5 561.5) scale(0.887 1)" fill="#0000ff" font-size="12.4" text-anchor="start">10</text>
<text transform="translate(1124.5 534.5) scale(0.887 1)" fill="#0000ff" font-size="12.4" text-anchor="start">15</text>
<text transform="translate(1124.5 506.5) scale(0.887 1)" fill="#0000ff" font-size="12.4" text-anchor="start">20</text>
<text transform="translate(1124.5 478.5) scale(0.887 1)" fill="#0000ff" font-size="12.4" text-anchor="start">25</text>
<text transform="translate(1124.5 451.5) scale(0.887 1)" fill="#0000ff" font-size="12.4" text-anchor="start">30</text>
<text transform="translate(1124.5 424.5) scale(0.887 1)" fill="#0000ff" font-size="12.4" text-anchor="start">35</text>
<text transform="translate(1124.5 396.5) scale(0.887 1)" fill="#0000ff" font-size="12.4" text-anchor="start">40</text>
<text transform="translate(1124.5 368.5) scale(0.887 1)" fill="#0000ff" font-size="12.4" text-anchor="start">45</text>
<text transform="translate(1124.5 341.5) scale(0.887 1)" fill="#0000ff" font-size="12.4" text-anchor="start">50</text>
<text transform="translate(1124.5 314.5) scale(0.887 1)" fill="#0000ff" font-size="12.4" text-anchor="start">55</text>
<text transform="translate(1124.5 286.5) scale(0.887 1)" fill="#0000ff" font-size="12.4" text-anchor="start">60</text>
<text transform="translate(1124.5 258.5) scale(0.887 1)" fill="#0000ff" font-size="12.4" text-anchor="start">65</text>
<text transform="translate(1124.5 231.5) scale(0.887 1)" fill="#0000ff" font-size="12.4" text-anchor="start">70</text>
<text transform="translate(1124.5 204.5) scale(0.887 1)" fill="#0000ff" font-size="12.4" text-anchor="start">75</text>
<text transform="translate(1124.5 176.5) scale(0.887 1)" fill="#0000ff" font-size="12.4" text-anchor="start">80</text>
<text transform="translate(1124.5 148.5) scale(0.887 1)" fill="#0000ff" font-size="12.4" text-anchor="start">85</text>
<text transform="translate(1124.5 121.5) scale(0.887 1)" fill="#0000ff" font-size="12.4" text-anchor="start">90</text>
<text transform="translate(1124.5 94.5) scale(0.887 1)" fill="#0000ff" font-size="12.4" text-anchor="start">95</text>
<text transform="translate(1124.5 66.5) scale(0.887 1)" fill="#0000ff" font-size="12.4" text-anchor="start">100</text>
<text transform="translate(1161.5 616.5) scale(0.887 1)" fill="#00ffff" font-size="12.4" text-anchor="start">0.00</text>
<text transform="translate(1198.5 616.5) scale(0.887 1)" fill="#808080" font-size="12.4" text-anchor="start">0</text>
<text transform="translate(1217 616.5) scale(0.887 1)" fill="#808080" font-size="12.4" text-anchor="start">N</text>
<text transform="translate(1161.5 570.5) scale(0.887 1)" fill="#00ffff" font-size="12.4" text-anchor="start">0.50</text>
<text transform="translate(1198.5 570.5) scale(0.887 1)" fill="#808080" font-size="12.4" text-anchor="start">30</text>
<text transform="translate(1161.5 524.5) scale(0.887 1)" fill="#00ffff" font-size="12.4" text-anchor="start">1.00</text>
<text transform="translate(1198.5 524.5) scale(0.887 1)" fill="#808080" font-size="12.4" text-anchor="start">60</text>
<text transform="translate(1161.5 478.5) scale(0.887 1)" fill="#00ffff" font-size="12.4" text-anchor="start">1.50</text>
<text transform="translate(1198.5 478.5) scale(0.887 1)" fill="#808080" font-size="12.4" text-anchor="start">90</text>
<text transform="translate(1217 478.5) scale(0.887 1)" fill="#808080" font-size="12.4" text-anchor="start">O</text>
<text transform="translate(1161.5 433.5) scale(0.887 1)" fill="#00ffff" font-size="12.4" text-anchor="start">2.00</text>
<text transform="translate(1198.5 433.5) scale(0.887 1)" fill="#808080" font-size="12.4" text-anchor="start">120</text>
<text transform="translate(1161.5 387.5) scale(0.887 1)" fill="#00ffff" font-size="12.4" text-anchor="start">2.50</text>
<text transform="translate(1198.5 387.5) scale(0.887 1)" fill="#808080" font-size="12.4" text-anchor="start">150</text>
<text transform="translate(1161.5 341.5) scale(0.887 1)" fill="#00ffff" font-size="12.4" text-anchor="start">3.00</text>
<text transform="translate(1198.5 341.5) scale(0.887 1)" fill="#808080" font-size="12.4" text-anchor="start">180</text>
<text transform="translate(1219.4 341.5) scale(0.887 1)" fill="#808080" font-size="12.4" text-anchor="start">S</text>
<text transform="translate(1161.5 295.5) scale(0.887 1)" fill="#00ffff" font-size="12.4" text-anchor="start">3.50</text>
<text transform="translate(1198.5 295.5) scale(0.887 1)" fill="#808080" font-size="12.4" text-anchor="start">210</text>
<text transform="translate(1161.5 249.5) scale(0.887 1)" fill="#00ffff" font-size="12.4" text-anchor="start">4.00</text>
<text transform="translate(1198.5 249.5) scale(0.887 1)" fill="#808080" font-size="12.4" text-anchor="start">240</text>
<text transform="translate(1161.5 204.5) scale(0.887 1)" fill="#00ffff" font-size="12.4" text-anchor="start">4.50</text>
<text transform="translate(1198.5 204.5) scale(0.887 1)" fill="#808080" font-size="12.4" text-anchor="start">270</text>
<text transform="translate(1219.4 204.5) scale(0.887 1)" fill="#808080" font-size="12.4" text-anchor="start">W</text>
<text transform="translate(1161.5 158.5) scale(0.887 1)" fill="#00ffff" font-size="12.4" text-anchor="start">5.00</text>
<text transform="translate(1198.5 158.5) scale(0.887 1)" fill="#808080" font-size="12.4" text-anchor="start">300</text>
<text transform="translate(1161.5 112.5) scale(0.887 1)" fill="#00ffff" font-size="12.4" text-anchor="start">5.50</text>
<text transform="translate(1198.5 112.5) scale(0.887 1)" fill="#808080" font-size="12.4" text-anchor="start">330</text>
<text transform="translate(1161.5 66.5) scale(0.887 1)" fill="#00ffff" font-size="12.4" text-anchor="start">6.00</text>
<text transform="translate(1198.5 66.5) scale(0.887 1)" fill="#808080" font-size="12.4" text-anchor="start">360</text>
<text transform="translate(1219.4 66.5) scale(0.887 1)" fill="#808080" font-size="12.4" text-anchor="start">N</text>
<text transform="translate(1235.5 616.5) scale(0.887 1)" fill="#4499ff" font-size="12.4" text-anchor="start">0</text>
<text transform="translate(1235.5 585.5) scale(0.887 1)" fill="#4499ff" font-size="12.4" text-anchor="start">5</text>
<text transform="translate(1235.5 555.5) scale(0.887 1)" fill="#4499ff" font-size="12.4" text-anchor="start">10</text>
<text transform="translate(1235.5 524.5) scale(0.887 1)" fill="#4499ff" font-size="12.4" text-anchor="start">15</text>
<text transform="translate(1235.5 494.5) scale(0.887 1)" fill="#4499ff" font-size="12.4" text-anchor="start">20</text>
<text transform="translate(1235.5 463.5) scale(0.887 1)" fill="#4499ff" font-size="12.4" text-anchor="start">25</text>
<text transform="translate(1235.5 433.5) scale(0.887 1)" fill="#4499ff" font-size="12.4" text-anchor="start">30</text>
<text transform="translate(1235.5 402.5) scale(0.887 1)" fill="#4499ff" font-size="12.4" text-anchor="start">35</text>
<text transform="translate(1235.5 372.5) scale(0.887 1)" fill="#4499ff" font-size="12.4" text-anchor="start">40</text>
<text transform="translate(1235.5 341.5) scale(0.887 1)" fill="#4499ff" font-size="12.4" text-anchor="start">45</text>
<text transform="translate(1235.5 310.5) scale(0.887 1)" fill="#4499ff" font-size="12.4" text-anchor="start">50</text>
<text transform="translate(1235.5 280.5) scale(0.887 1)" fill="#4499ff" font-size="12.4" text-anchor="start">55</text>
<text transform="translate(1235.5 249.5) scale(0.887 1)" fill="#4499ff" font-size="12.4" text-anchor="start">60</text>
<text transform="translate(1235.5 219.5) scale(0.887 1)" fill="#4499ff" font-size="12.4" text-anchor="start">65</text>
<text transform="translate(1235.5 188.5) scale(0.887 1)" fill="#4499ff" font-size="12.4" text-anchor="start">70</text>
<text transform="translate(1235.5 158.5) scale(0.887 1)" fill="#4499ff" font-size="12.4" text-anchor="start">75</text>
<text transform="translate(1235.5 127.5) scale(0.887 1)" fill="#4499ff" font-size="12.4" text-anchor="start">80</text>
<text transform="translate(1235.5 97.5) scale(0.887 1)" fill="#4499ff" font-size="12.4" text-anchor="start">85</text>
<text transform="translate(1235.5 66.5) scale(0.887 1)" fill="#4499ff" font-size="12.4" text-anchor="start">90</text>
<text transform="translate(189.5 630.5) scale(0.887 1)" fill="#000" font-size="12.4" text-anchor="middle">00:00</text>
<text transform="translate(228.5 630.5) scale(0.887 1)" fill="#000" font-size="12.4" text-anchor="middle">01:00</text>
<text transform="translate(267.5 630.5) scale(0.887 1)" fill="#000" font-size="12.4" text-anchor="middle">02:00</text>
<text transform="translate(305.5 630.5) scale(0.887 1)" fill="#000" font-size="12.4" text-anchor="middle">03:00</text>
<text transform="translate(344.5 630.5) scale(0.887 1)" fill="#000" font-size="12.4" text-anchor="middle">04:00</text>
<text transform="translate(383.5 630.5) scale(0.887 1)" fill="#000" font-size="12.4" text-anchor="middle">05:00</text>
<text transform="translate(421.5 630.5) scale(0.887 1)" fill="#000" font-size="12.4" text-anchor="middle">06:00</text>
<text transform="translate(460.5 630.5) scale(0.887 1)" fill="#000" font-size="12.4" text-anchor="middle">07:00</text>
<text transform="translate(499.5 630.5) scale(0.887 1)" fill="#000" font-size="12.4" text-anchor="middle">08:00</text>
<text transform="translate(538.5 630.5) scale(0.887 1)" fill="#000" font-size="12.4" text-anchor="middle">09:00</text>
<text transform="translate(577.5 630.5) scale(0.887 1)" fill="#000" font-size="12.4" text-anchor="middle">10:00</text>
<text transform="translate(615.5 630.5) scale(0.887 1)" fill="#000" font-size="12.4" text-anchor="middle">11:00</text>
<text transform="translate(654.5 630.5) scale(0.887 1)" fill="#000" font-size="12.4" text-anchor="middle">12:00</text>
<text transform="translate(693.5 630.5) scale(0.887 1)" fill="#000" font-size="12.4" text-anchor="middle">13:00</text>
<text transform="translate(731.5 630.5) scale(0.887 1)" fill="#000" font-size="12.4" text-anchor="middle">14:00</text>
<text transform="translate(770.5 630.5) scale(0.887 1)" fill="#000" font-size="12.4" text-anchor="middle">15:00</text>
<text transform="translate(809.5 630.5) scale(0.887 1)" fill="#000" font-size="12.4" text-anchor="middle">16:00</text>
<text transform="translate(848.5 630.5) scale(0.887 1)" fill="#000" font-size="12.4" text-anchor="middle">17:00</text>
<text transform="translate(887.5 630.5) scale(0.887 1)" fill="#000" font-size="12.4" text-anchor="middle">18:00</text>
<text transform="translate(925.5 630.5) scale(0.887 1)" fill="#000" font-size="12.4" text-anchor="middle">19:00</text>
<text transform="translate(964.5 630.5) scale(0.887 1)" fill="#000" font-size="12.4" text-anchor="middle">20:00</text>
<text transform="translate(1003.5 630.5) scale(0.887 1)" fill="#000" font-size="12.4" text-anchor="middle">21:00</text>
<text transform="translate(1041.5 630.5) scale(0.887 1)" fill="#000" font-size="12.4" text-anchor="middle">22:00</text>
<text transform="translate(1080.5 630.5) scale(0.887 1)" fill="#000" font-size="12.4" text-anchor="middle">23:00</text>
<text transform="translate(1118.5 630.5) scale(0.887 1)" fill="#000" font-size="12.4" text-anchor="middle">24:00</text>
<text transform="translate(460.5 641.5) scale(0.887 1)" fill="#000" font-size="12.4" text-anchor="start">07:54</text>
<text transform="translate(860 641.5) scale(0.887 1)" fill="#000" font-size="12.4" text-anchor="start">18:11</text>
<text transform="translate(10.5 641.5) scale(0.887 1)" fill="#000" font-size="12.4" text-anchor="start">10:17</text>
</g>
<text x="568.5" y="20.5" font-family="Liberation Sans, sans-serif" font-size="16" fill="#000" textLength="140" lengthAdjust="spacingAndGlyphs">Montag, 21.10.2024</text>
<text x="1180.5" y="15.7" font-family="Liberation Sans, sans-serif" font-size="11" fill="#0000ff" stroke="#0000ff" stroke-width="0.15" textLength="87.5" lengthAdjust="spacingAndGlyphs">Osterode am Harz</text>
<g font-family="Liberation Sans, sans-serif" font-size="11">
<rect x="198.5" y="33.5" width="9" height="9" fill="#ff0000" stroke="#000" stroke-width="1" shape-rendering="crispEdges"/>
<text transform="translate(212 42) scale(0.887 1)" fill="#000" font-size="12.4" text-anchor="start">Außen</text>
<rect x="293.5" y="33.5" width="9" height="9" fill="#0000ff" stroke="#000" stroke-width="1" shape-rendering="crispEdges"/>
<text transform="translate(307 42) scale(0.887 1)" fill="#000" font-size="12.4" text-anchor="start">Feuchte</text>
<rect x="388.5" y="33.5" width="9" height="9" fill="#00ff00" stroke="#000" stroke-width="1" shape-rendering="crispEdges"/>
<text transform="translate(402 42) scale(0.887 1)" fill="#000" font-size="12.4" text-anchor="start">Luftdruck*</text>
<rect x="483.5" y="33.5" width="9" height="9" fill="#00ffff" stroke="#000" stroke-width="1" shape-rendering="crispEdges"/>
<text transform="translate(497 42) scale(0.887 1)" fill="#000" font-size="12.4" text-anchor="start">Regen</text>
<rect x="578.5" y="33.5" width="9" height="9" fill="#000" stroke="#000" stroke-width="1" shape-rendering="crispEdges"/>
<text transform="translate(592 42) scale(0.887 1)" fill="#000" font-size="12.4" text-anchor="start">Wind*</text>
<rect x="673.5" y="33.5" width="9" height="9" fill="#808080" stroke="#000" stroke-width="1" shape-rendering="crispEdges"/>
<text transform="translate(687 42) scale(0.887 1)" fill="#000" font-size="12.4" text-anchor="start">Richtung*</text>
<rect x="768.5" y="33.5" width="9" height="9" fill="#ffff00" stroke="#000" stroke-width="1" shape-rendering="crispEdges"/>
<text transform="translate(782 42) scale(0.887 1)" fill="#000" font-size="12.4" text-anchor="start">Sonnenschein</text>
<rect x="863.5" y="33.5" width="9" height="9" fill="#55aaff" stroke="#000" stroke-width="1" shape-rendering="crispEdges"/>
<text transform="translate(877 42) scale(0.887 1)" fill="#000" font-size="12.4" text-anchor="start">Helligkeit</text>
<rect x="958.5" y="33.5" width="9" height="9" fill="#008000" stroke="#000" stroke-width="1" shape-rendering="crispEdges"/>
<text transform="translate(972 42) scale(0.887 1)" fill="#000" font-size="12.4" text-anchor="start">Solar</text>
<rect x="198.5" y="47.5" width="9" height="9" fill="#408080" stroke="#000" stroke-width="1" shape-rendering="crispEdges"/>
<text transform="translate(213 56) scale(0.887 1)" fill="#000" font-size="12.4" text-anchor="start">Taupunkt*</text>
<path d="M293.5 56V47.5H302.5V56.5H299" fill="none" stroke="#ff8080" stroke-width="1" shape-rendering="crispEdges"/>
<text transform="translate(307.5 56) scale(0.887 1)" fill="#ff8080" font-size="12.4" text-anchor="start">8.5 Monat-Ø</text>
</g>
<g shape-rendering="crispEdges">
<rect x="43" y="635" width="3" height="1" fill="#ffff00"/>
<rect x="41" y="636" width="7" height="1" fill="#ffff00"/>
<rect x="40" y="637" width="9" height="4" fill="#ffff00"/>
</g>
<circle cx="494.5" cy="638" r="5" fill="none" stroke="#ffff70" stroke-width="1.6" stroke-dasharray="2 1.9"/><circle cx="494" cy="638" r="3.1" fill="#ffff00"/>
<rect x="890.5" y="635.5" width="5" height="5" fill="none" stroke="#ffff50" stroke-width="1" shape-rendering="crispEdges"/>
<rect x="1" y="652" width="1270" height="72" fill="#e1f8d0"/>
<g shape-rendering="crispEdges">
<rect x="87" y="652" width="1" height="72" fill="#f2fcec"/>
<rect x="88" y="652" width="1" height="72" fill="#9a9aa2"/>
<rect x="204" y="652" width="1" height="72" fill="#f2fcec"/>
<rect x="205" y="652" width="1" height="72" fill="#9a9aa2"/>
<rect x="322" y="652" width="1" height="72" fill="#f2fcec"/>
<rect x="323" y="652" width="1" height="72" fill="#9a9aa2"/>
<rect x="440" y="652" width="1" height="72" fill="#f2fcec"/>
<rect x="441" y="652" width="1" height="72" fill="#9a9aa2"/>
<rect x="558" y="652" width="1" height="72" fill="#f2fcec"/>
<rect x="559" y="652" width="1" height="72" fill="#9a9aa2"/>
<rect x="676" y="652" width="1" height="72" fill="#f2fcec"/>
<rect x="677" y="652" width="1" height="72" fill="#9a9aa2"/>
<rect x="794" y="652" width="1" height="72" fill="#f2fcec"/>
<rect x="795" y="652" width="1" height="72" fill="#9a9aa2"/>
<rect x="912" y="652" width="1" height="72" fill="#f2fcec"/>
<rect x="913" y="652" width="1" height="72" fill="#9a9aa2"/>
</g>
<g font-family="Liberation Sans, sans-serif" font-size="11">
<text transform="translate(8.5 670) scale(0.93 1)" fill="#000" font-size="12.4" text-anchor="start" font-weight="bold">Sensor</text>
<text transform="translate(8.5 686) scale(0.93 1)" fill="#000" font-size="12.4" text-anchor="start" font-weight="bold">MinWert</text>
<text transform="translate(8.5 702) scale(0.93 1)" fill="#000" font-size="12.4" text-anchor="start" font-weight="bold">MaxWert</text>
<text transform="translate(8.5 718) scale(0.93 1)" fill="#000" font-size="12.4" text-anchor="start" font-weight="bold">Durchschnitt</text>
<text transform="translate(94 670) scale(0.93 1)" fill="#000" font-size="12.4" text-anchor="start" font-weight="bold">Außen</text>
<text transform="translate(198.5 670) scale(0.93 1)" fill="#000" font-size="12.4" text-anchor="end" font-weight="bold">°C</text>
<text transform="translate(100.5 686) scale(0.887 1)" fill="#000" font-size="12.4" text-anchor="start">21:15</text>
<text transform="translate(198.5 686) scale(0.887 1)" fill="#000" font-size="12.4" text-anchor="end">13.4</text>
<text transform="translate(100.5 702) scale(0.887 1)" fill="#000" font-size="12.4" text-anchor="start">12:45</text>
<text transform="translate(198.5 702) scale(0.887 1)" fill="#000" font-size="12.4" text-anchor="end">19.1</text>
<text transform="translate(100.5 718) scale(0.887 1)" fill="#000" font-size="12.4" text-anchor="start">(+ 7.03 )</text>
<text transform="translate(198.5 718) scale(0.887 1)" fill="#000" font-size="12.4" text-anchor="end">15.49</text>
<text transform="translate(213 670) scale(0.93 1)" fill="#000" font-size="12.4" text-anchor="start" font-weight="bold">Feuchte</text>
<text transform="translate(316 670) scale(0.93 1)" fill="#000" font-size="12.4" text-anchor="end" font-weight="bold">%</text>
<text transform="translate(218.5 686) scale(0.887 1)" fill="#000" font-size="12.4" text-anchor="start">12:45</text>
<text transform="translate(316 686) scale(0.887 1)" fill="#000" font-size="12.4" text-anchor="end">75</text>
<text transform="translate(218.5 702) scale(0.887 1)" fill="#000" font-size="12.4" text-anchor="start">04:45</text>
<text transform="translate(316 702) scale(0.887 1)" fill="#000" font-size="12.4" text-anchor="end">85</text>
<text transform="translate(316 718) scale(0.887 1)" fill="#000" font-size="12.4" text-anchor="end">82</text>
<text transform="translate(330 670) scale(0.93 1)" fill="#000" font-size="12.4" text-anchor="start" font-weight="bold">Luftdruck</text>
<text transform="translate(434.5 670) scale(0.93 1)" fill="#000" font-size="12.4" text-anchor="end" font-weight="bold">hPa</text>
<text transform="translate(336.5 686) scale(0.887 1)" fill="#000" font-size="12.4" text-anchor="start">00:15</text>
<text transform="translate(434.5 686) scale(0.887 1)" fill="#000" font-size="12.4" text-anchor="end">1020.8</text>
<text transform="translate(336.5 702) scale(0.887 1)" fill="#000" font-size="12.4" text-anchor="start">19:45</text>
<text transform="translate(434.5 702) scale(0.887 1)" fill="#000" font-size="12.4" text-anchor="end">1023.9</text>
<text transform="translate(330 718) scale(0.887 1)" fill="#000" font-size="12.4" text-anchor="start">^1.2hPa/h</text>
<text transform="translate(434.5 718) scale(0.887 1)" fill="#000" font-size="12.4" text-anchor="end">1022.9</text>
<text transform="translate(448.5 670) scale(0.93 1)" fill="#000" font-size="12.4" text-anchor="start" font-weight="bold">Wind</text>
<text transform="translate(552 670) scale(0.93 1)" fill="#000" font-size="12.4" text-anchor="end" font-weight="bold">km/h</text>
<text transform="translate(448.5 686) scale(0.887 1)" fill="#000" font-size="12.4" text-anchor="start">Ø 10 min.</text>
<text transform="translate(552 686) scale(0.887 1)" fill="#000" font-size="12.4" text-anchor="end">15.1</text>
<text transform="translate(454.5 702) scale(0.887 1)" fill="#000" font-size="12.4" text-anchor="start">10:00</text>
<text transform="translate(552 702) scale(0.887 1)" fill="#000" font-size="12.4" text-anchor="end">SW 27.8</text>
<text transform="translate(454.5 718) scale(0.887 1)" fill="#000" font-size="12.4" text-anchor="start">245.1 km</text>
<text transform="translate(552 718) scale(0.887 1)" fill="#000" font-size="12.4" text-anchor="end">10.2</text>
<text transform="translate(566.5 670) scale(0.93 1)" fill="#000" font-size="12.4" text-anchor="start" font-weight="bold">Richtung</text>
<text transform="translate(572.5 686) scale(0.887 1)" fill="#000" font-size="12.4" text-anchor="start">00:00</text>
<text transform="translate(572.5 702) scale(0.887 1)" fill="#000" font-size="12.4" text-anchor="start">01:00</text>
<text transform="translate(670 686) scale(0.887 1)" fill="#000" font-size="12.4" text-anchor="end">SW</text>
<text transform="translate(670 702) scale(0.887 1)" fill="#000" font-size="12.4" text-anchor="end">SW</text>
<text transform="translate(670 718) scale(0.887 1)" fill="#000" font-size="12.4" text-anchor="end">SW</text>
<text transform="translate(684.5 670) scale(0.887 1)" fill="#000" font-size="12.4" text-anchor="start">Regen/1h</text>
<text transform="translate(789 670) scale(0.887 1)" fill="#000" font-size="12.4" text-anchor="end">0.00l/m²</text>
<text transform="translate(684.5 686) scale(0.887 1)" fill="#000" font-size="12.4" text-anchor="start">Regen/Tag</text>
<text transform="translate(789 686) scale(0.887 1)" fill="#000" font-size="12.4" text-anchor="end">0.88l/m²</text>
<text transform="translate(684.5 702) scale(0.887 1)" fill="#000" font-size="12.4" text-anchor="start">Neumond</text>
<text transform="translate(789 702) scale(0.887 1)" fill="#000" font-size="12.4" text-anchor="end">01.11.24</text>
<text transform="translate(684.5 718) scale(0.887 1)" fill="#000" font-size="12.4" text-anchor="start">Vollmond</text>
<text transform="translate(789 718) scale(0.887 1)" fill="#000" font-size="12.4" text-anchor="end">15.11.24</text>
<text transform="translate(802.5 670) scale(0.887 1)" fill="#000" font-size="12.4" text-anchor="start">Wolkenunterg</text>
<text transform="translate(906.5 670) scale(0.887 1)" fill="#000" font-size="12.4" text-anchor="end">388m</text>
<text transform="translate(802.5 686) scale(0.887 1)" fill="#000" font-size="12.4" text-anchor="start">Sichtweite</text>
<text transform="translate(906.5 686) scale(0.887 1)" fill="#000" font-size="12.4" text-anchor="end">6-10km</text>
<text transform="translate(802.5 702) scale(0.887 1)" fill="#000" font-size="12.4" text-anchor="start">Schneefallgr</text>
<text transform="translate(906.5 702) scale(0.887 1)" fill="#000" font-size="12.4" text-anchor="end">2530m</text>
<text transform="translate(802.5 718) scale(0.887 1)" fill="#000" font-size="12.4" text-anchor="start">Schneehöhe</text>
<text transform="translate(906.5 718) scale(0.887 1)" fill="#000" font-size="12.4" text-anchor="end">0cm</text>
<text transform="translate(920.5 670) scale(0.93 1)" fill="#000" font-size="12.4" text-anchor="start" font-weight="bold">Solar</text>
<text transform="translate(1022 670) scale(0.93 1)" fill="#000" font-size="12.4" text-anchor="end" font-weight="bold">W/m²</text>
<text transform="translate(920.5 686) scale(0.887 1)" fill="#000" font-size="12.4" text-anchor="start">Elevation</text>
<text transform="translate(1022 686) scale(0.887 1)" fill="#000" font-size="12.4" text-anchor="end">-46.373</text>
<text transform="translate(927 702) scale(0.887 1)" fill="#000" font-size="12.4" text-anchor="start">12:45</text>
<text transform="translate(1022 702) scale(0.887 1)" fill="#000" font-size="12.4" text-anchor="end">436</text>
<text transform="translate(920.5 718) scale(0.887 1)" fill="#000" font-size="12.4" text-anchor="start">Tag:1:30 h</text>
<text transform="translate(1022 718) scale(0.887 1)" fill="#000" font-size="12.4" text-anchor="end">74</text>
</g>
<rect x="1272" y="0" width="2" height="6" fill="#808080"/>
<rect x="1272" y="6" width="2" height="30" fill="#d4d4d4"/>
<rect x="1272" y="36" width="2" height="24" fill="#a8a8a8"/>
<rect x="1272" y="60" width="2" height="26" fill="#d4d4d4"/>
<rect x="1272" y="86" width="2" height="361" fill="#000"/>
<rect x="1272" y="447" width="2" height="243" fill="#d0d0d0"/>
<rect x="1272" y="690" width="2" height="34" fill="#3a2a12"/>
<rect x="1271" y="652" width="1" height="72" fill="#909090"/>
</svg>
</body></html>
